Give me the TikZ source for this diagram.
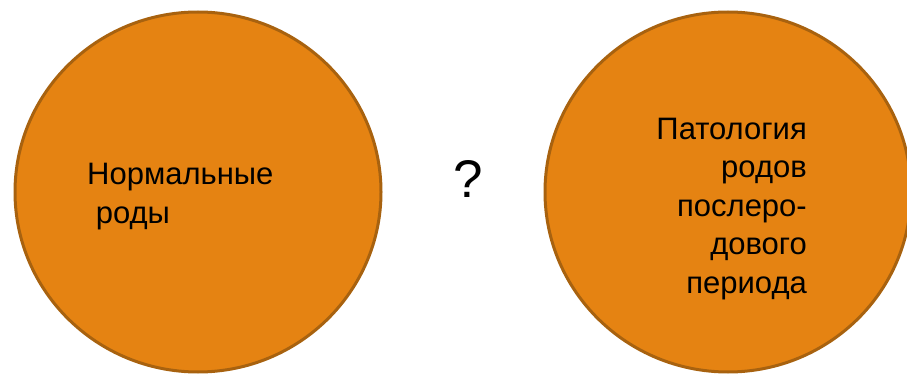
\documentclass[tikz,border=0pt]{standalone}
\usepackage{fontspec}
\setmainfont{Liberation Sans}
\usetikzlibrary{shapes.geometric}
\definecolor{blobfill}{HTML}{E58312}
\definecolor{blobline}{HTML}{A8620F}

\begin{document}
\begin{tikzpicture}[x=1pt,y=-1pt,
  blob/.style={ellipse,draw=blobline,fill=blobfill,line width=3pt,
    minimum width=366pt,minimum height=360pt,inner sep=0pt},
  txt/.style={inner sep=0pt,font=\fontsize{31}{38.5}\selectfont}]
\useasboundingbox (0,0) rectangle (907,374);
\node[blob] (normal) at (198,192) {};
\node[blob] (patho) at (728,192) {};
\node[txt,anchor=base west,align=left] (normtxt) at (87,223)
  {Нормальные\\\hspace*{.278em}роды};
\node[txt,anchor=base east,align=right] (pathtxt) at (807,293)
  {Патология\\родов\\послеро-\\дового\\периода};
\node[inner sep=0pt,font=\fontsize{53}{60}\selectfont,anchor=base] (qmark) at (468,197) {?};
\end{tikzpicture}
\end{document}
